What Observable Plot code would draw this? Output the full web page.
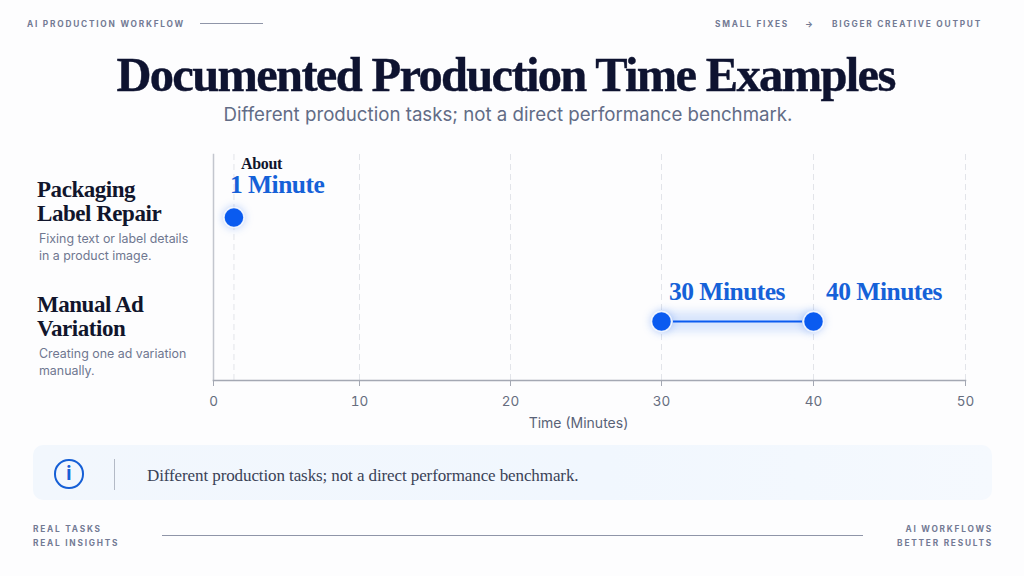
<!DOCTYPE html>
<html><head><meta charset="utf-8">
<script src="https://cdn.jsdelivr.net/npm/d3@7"></script>
<script src="https://cdn.jsdelivr.net/npm/@observablehq/plot@0.6"></script>
<style>
html,body{margin:0;padding:0;background:#fdfdfe;width:1024px;height:576px;overflow:hidden}
#page{position:relative;width:1024px;height:576px;font-family:Inter,sans-serif}
#page>div{position:absolute;white-space:nowrap}
#chart{left:0;top:0}
.cap{font-size:8.3px;font-weight:700;letter-spacing:1.78px;color:#737a94;line-height:14px}
.title{left:0;width:1011px;top:46px;text-align:center;font:bold 48.5px/58px "Liberation Serif",serif;letter-spacing:-1.67px;color:#0e1330;-webkit-text-stroke:.4px #0e1330}
.sub{left:0;width:1016px;top:102px;text-align:center;font-size:18.7px;line-height:26px;color:#626c86}
.rule{background:#8f95a8;height:1px}
.box{left:33px;top:445px;width:959px;height:55px;border-radius:10px;background:linear-gradient(90deg,#f2f7fd,#f1f7fe 60%,#f5f9fe)}
.icon{left:54px;top:459px;width:25.5px;height:25.5px;border:2.5px solid #155fd6;border-radius:50%;text-align:center;font:700 19px/25.5px Inter,sans-serif;color:#155fd6}
.vbar{left:114px;top:459px;width:1px;height:31px;background:#b3bac6}
.note{left:147px;top:464px;font:17px/24px "Liberation Serif",serif;letter-spacing:-.1px;color:#3a4257}
svg g[font-family*="Serif"]{letter-spacing:-.02em}
</style></head><body>
<div id="page">
  <div class="box"></div><div class="icon">i</div><div class="vbar"></div>
  <div class="note">Different production tasks; not a direct performance benchmark.</div>
  <div id="chart"></div>
  <div class="cap" style="left:27px;top:17px">AI PRODUCTION WORKFLOW</div>
  <div class="rule" style="left:200px;top:23px;width:63px"></div>
  <div class="cap" style="left:715px;top:17px">SMALL FIXES</div>
  <div class="cap" style="left:805px;top:17px;letter-spacing:0">→</div>
  <div class="cap" style="left:832px;top:17px">BIGGER CREATIVE OUTPUT</div>
  <div class="title">Documented Production Time Examples</div>
  <div class="sub">Different production tasks; not a direct performance benchmark.</div>
  <div class="cap" style="left:33px;top:522px">REAL TASKS</div>
  <div class="cap" style="left:33px;top:536px">REAL INSIGHTS</div>
  <div class="rule" style="left:162px;top:535px;width:701px"></div>
  <div class="cap" style="right:31px;top:522px">AI WORKFLOWS</div>
  <div class="cap" style="right:31px;top:536px">BETTER RESULTS</div>
</div>
<script>
const tasks = ["Packaging\nLabel Repair", "Manual Ad\nVariation"];
const descriptions = ["Fixing text or label details\nin a product image.", "Creating one ad variation\nmanually."];
const startMinutes = [1.4, 30];
const endMinutes = [1.4, 40];
const xTicks = [0, 10, 20, 30, 40, 50];
const gridValues = [1.4, 10, 20, 30, 40, 50];
const axisTitle = "Time (Minutes)";

const blue = "#1561d8", dot = "#0a5bf0";
const serif = "Liberation Serif", sans = "Inter";
const rows = tasks.map((t, i) => ({task: t, desc: descriptions[i], start: startMinutes[i], end: endMinutes[i]}));
const points = rows.flatMap(r => r.start === r.end ? [{task: r.task, v: r.start}] : [{task: r.task, v: r.start}, {task: r.task, v: r.end}]);
const ranges = rows.filter(r => r.start !== r.end);

const rowLabel = (row, nameDy, descDy) => [
  Plot.text([row], {x: () => 0, y: "task", text: "task", dx: -176.5, dy: nameDy, textAnchor: "start", lineHeight: 1.05, fontFamily: serif, fontWeight: 700, fontSize: 23, fill: "#11152c", lineAnchor: "middle"}),
  Plot.text([row], {x: () => 0, y: "task", text: "desc", dx: -174.5, dy: descDy, textAnchor: "start", lineHeight: 1.38, fontFamily: sans, fontSize: 12.4, fill: "#6f7790", lineAnchor: "middle"})
];

const chart = Plot.plot({
  width: 1024, height: 576,
  marginTop: 154, marginBottom: 196, marginLeft: 213, marginRight: 59,
  style: {background: "transparent", fontFamily: sans},
  x: {type: "linear", domain: xTicks, range: [213, 359, 510, 661, 813, 965]},
  y: {type: "point", domain: tasks, range: [217, 321], padding: 0, axis: null},
  marks: [
    Plot.ruleX(gridValues, {stroke: "#e2e4e9", strokeWidth: 1, strokeDasharray: "6,4"}),
    Plot.frame({anchor: "left", stroke: "#c3c6ce", strokeWidth: 1.5}),
    Plot.frame({anchor: "bottom", stroke: "#a4a8b3", strokeWidth: 1.5}),
    Plot.axisX({ticks: xTicks, tickSize: 6, tickPadding: 10, label: null, stroke: "#a4a8b3", fill: "#666d7e", fontSize: 13.5, fontFamily: sans}),
    Plot.text([axisTitle], {x: () => 24.5, frameAnchor: "bottom", dy: 47, text: d => d, fontSize: 14, fill: "#596277", fontFamily: sans}),
    // glow under range
    Plot.ruleY(ranges, {x1: "start", x2: "end", y: "task", stroke: dot, strokeOpacity: .15, strokeWidth: 20, imageFilter: "blur(4px)"}),
    Plot.ruleY(ranges, {x1: "start", x2: "end", y: "task", insetLeft: 12, insetRight: 11, stroke: dot, strokeWidth: 2.2}),
    Plot.dot(points, {x: "v", y: "task", r: 10, fill: dot, stroke: "#fff", strokeOpacity: .85, strokeWidth: 1.5, imageFilter: "drop-shadow(0 0 4px rgba(10,91,240,.3))"}),
    // category labels
    ...rowLabel(rows[0], -16.5, 28.5),
    ...rowLabel(rows[1], -5, 39.5),
    // value labels
    Plot.text(["About"], {x: () => 1.4, y: () => tasks[0], text: d => d, dx: 7, dy: -54, textAnchor: "start", fontFamily: serif, fontWeight: 700, fontSize: 16, fill: "#11152c"}),
    Plot.text(["1 Minute"], {x: () => 1.4, y: () => tasks[0], text: d => d, dx: -4, dy: -33, textAnchor: "start", fontFamily: serif, fontWeight: 700, fontSize: 25.5, fill: blue}),
    Plot.text(["30 Minutes"], {x: () => startMinutes[1], y: () => tasks[1], text: d => d, dx: 7.5, dy: -30, textAnchor: "start", fontFamily: serif, fontWeight: 700, fontSize: 25.5, fill: blue}),
    Plot.text(["40 Minutes"], {x: () => endMinutes[1], y: () => tasks[1], text: d => d, dx: 12.5, dy: -30, textAnchor: "start", fontFamily: serif, fontWeight: 700, fontSize: 25.5, fill: blue})
  ]
});
document.getElementById("chart").appendChild(chart);
</script>
</body></html>
